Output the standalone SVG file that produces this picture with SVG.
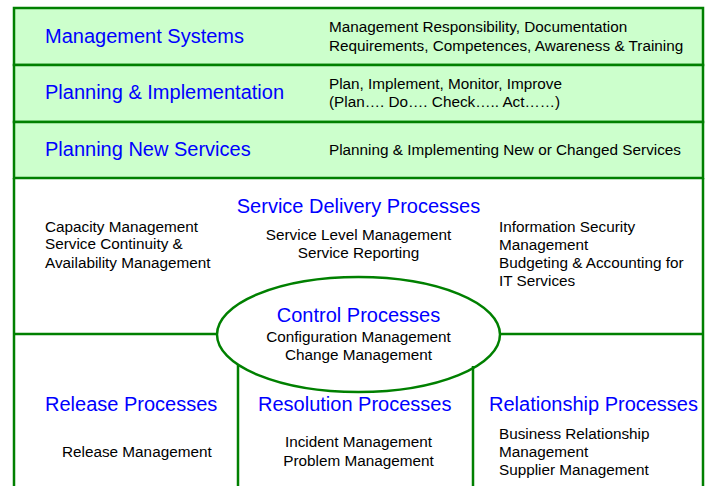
<svg xmlns="http://www.w3.org/2000/svg" width="709" height="486" viewBox="0 0 709 486">
<style>
.t{font-family:"Liberation Sans",Arial,sans-serif;font-size:20px;fill:#0000FF}
.b{font-family:"Liberation Sans",Arial,sans-serif;font-size:15.3px;fill:#000}
.ln{stroke:#008000;stroke-width:2.5;fill:none}
.band{fill:#CCFFCC;stroke:#008000;stroke-width:2.5}
.m{text-anchor:middle}
</style>
<rect width="709" height="486" fill="#fff"/>
<g id="management-systems">
<rect class="band" x="14" y="8" width="689" height="57"/>
<text class="t" x="45" y="43">Management Systems</text>
<text class="b" x="329" y="32">Management Responsibility, Documentation</text>
<text class="b" x="329" y="51">Requirements, Competences, Awareness &amp; Training</text>
</g>
<g id="planning-implementation">
<rect class="band" x="14" y="65" width="689" height="57"/>
<text class="t" x="45" y="99">Planning &amp; Implementation</text>
<text class="b" x="329" y="89">Plan, Implement, Monitor, Improve</text>
<text class="b" x="329" y="107">(Plan…. Do…. Check….. Act……)</text>
</g>
<g id="planning-new-services">
<rect class="band" x="14" y="122" width="689" height="56"/>
<text class="t" x="45" y="156">Planning New Services</text>
<text class="b" x="329" y="155">Planning &amp; Implementing New or Changed Services</text>
</g>
<g id="connectors">
<path class="ln" d="M14 178 V486 M703 178 V486 M14 334 H217 M500 334 H703 M238 364.6 V486 M473 366 V486"/>
</g>
<g id="service-delivery">
<text class="t m" x="358.5" y="213">Service Delivery Processes</text>
<text class="b m" x="358.5" y="240">Service Level Management</text>
<text class="b m" x="358.5" y="258">Service Reporting</text>
<text class="b" x="45" y="232">Capacity Management</text>
<text class="b" x="45" y="249">Service Continuity &amp;</text>
<text class="b" x="45" y="268">Availability Management</text>
<text class="b" x="499" y="232">Information Security</text>
<text class="b" x="499" y="250">Management</text>
<text class="b" x="499" y="268">Budgeting &amp; Accounting for</text>
<text class="b" x="499" y="286">IT Services</text>
</g>
<g id="control-processes">
<ellipse class="ln" cx="358.5" cy="334.5" rx="141.5" ry="57.5" fill="#fff"/>
<text class="t m" x="358.5" y="322">Control Processes</text>
<text class="b m" x="358.5" y="342">Configuration Management</text>
<text class="b m" x="358.5" y="360">Change Management</text>
</g>
<g id="release-processes">
<text class="t" x="45" y="411">Release Processes</text>
<text class="b" x="62" y="457">Release Management</text>
</g>
<g id="resolution-processes">
<text class="t" x="258" y="411">Resolution Processes</text>
<text class="b m" x="358.5" y="447">Incident Management</text>
<text class="b m" x="358.5" y="466">Problem Management</text>
</g>
<g id="relationship-processes">
<text class="t" x="489" y="411">Relationship Processes</text>
<text class="b" x="499" y="439">Business Relationship</text>
<text class="b" x="499" y="457">Management</text>
<text class="b" x="499" y="475">Supplier Management</text>
</g>
</svg>
